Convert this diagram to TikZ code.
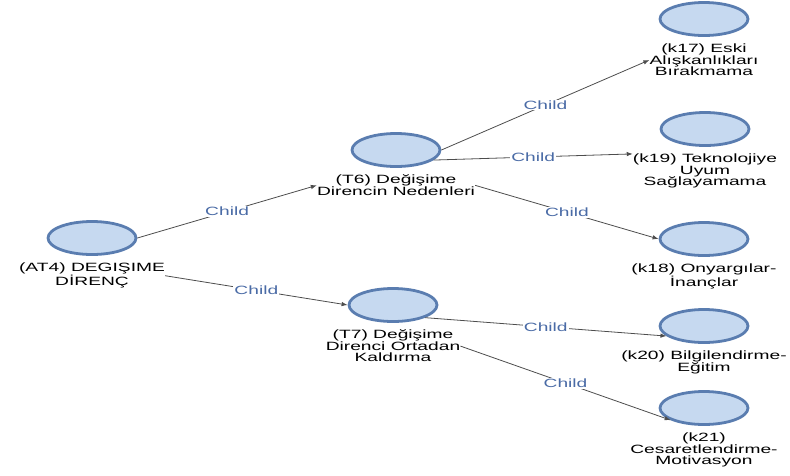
\documentclass[tikz,border=0pt]{standalone}
\usepackage{fontspec}
\newfontfamily\lblfont[FakeStretch=1.6]{Liberation Sans}
\usetikzlibrary{arrows.meta,positioning,shapes.geometric}
\definecolor{nodefill}{HTML}{C6D9F0}
\definecolor{nodeedge}{HTML}{5A7DB0}
\definecolor{childblue}{HTML}{4A6BA6}
\definecolor{edgegray}{HTML}{4D4D4D}

\begin{document}
\begin{tikzpicture}[
    x=1pt, y=-1pt,
    font=\lblfont\fontsize{12}{11.5}\selectfont,
    node distance=7pt,
    concept/.style={
        ellipse, draw=nodeedge, fill=nodefill, line width=2.8pt,
        minimum width=88pt, minimum height=33pt, inner sep=0pt
    },
    caption/.style={
        align=center, inner sep=0pt, text=black
    },
    edge/.style={
        -{Latex[length=6pt,width=4.5pt]}, draw=edgegray, line width=0.8pt
    },
    childlabel/.style={
        midway, fill=white, inner sep=1pt, text=childblue
    }
]
\useasboundingbox (0,0) rectangle (790,475);

% --- root ---
\node[concept] (at4) at (92,238) {};
\node[caption, below=of at4] (at4l) {(AT4) DEGIŞIME\\DİRENÇ};

% --- two topics ---
\node[concept] (t6) at (396,150) {};
\node[caption, below=of t6] (t6l) {(T6) Değişime\\Direncin Nedenleri};
\node[concept] (t7) at (393,305) {};
\node[caption, below=of t7] (t7l) {(T7) Değişime\\Direnci Ortadan\\Kaldırma};

% --- leaves, top to bottom ---
\node[concept] (k17) at (704,19) {};
\node[caption, below=of k17] (k17l) {(k17) Eski\\Alışkanlıkları\\Bırakmama};
\node[concept] (k19) at (705,129) {};
\node[caption, below=of k19] (k19l) {(k19) Teknolojiye\\Uyum\\Sağlayamama};
\node[concept] (k18) at (704,239) {};
\node[caption, below=of k18] (k18l) {(k18) Onyargılar-\\İnançlar};
\node[concept] (k20) at (704,326) {};
\node[caption, below=of k20] (k20l) {(k20) Bilgilendirme-\\Eğitim};
\node[concept] (k21) at (704,408) {};
\node[caption, below=of k21] (k21l) {(k21)\\Cesaretlendirme-\\Motivasyon};

% --- child links ---
\draw[edge] (at4.east) -- node[childlabel]{Child} (t6l.west);
\draw[edge] (at4l.east) -- node[childlabel]{Child} (t7.west);
\draw[edge] (t6.east) -- node[childlabel]{Child} (k17l.west);
\draw[edge] (t6.-15) -- node[childlabel]{Child} (k19l.north west);
\draw[edge] (t6l.east) -- node[childlabel]{Child} (k18.west);
\draw[edge] (t7.south east) -- node[childlabel]{Child} (k20.195);
\draw[edge] (t7l.east) -- node[childlabel]{Child} (k21.200);

\end{tikzpicture}
\end{document}
